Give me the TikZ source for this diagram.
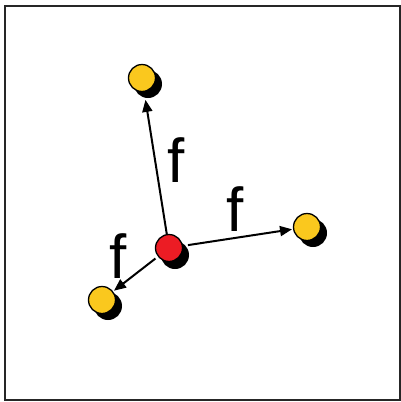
\documentclass[tikz,border=0pt]{standalone}
\usepackage{fontspec}
\setmainfont{Liberation Sans}
\usetikzlibrary{arrows.meta}
\definecolor{ballyellow}{RGB}{250,200,30}
\definecolor{ballred}{RGB}{236,28,36}
\tikzset{
  ball/.style={circle,draw=black,line width=1.3pt,minimum size=27pt,inner sep=0pt},
  shadowball/.style={circle,fill=black,minimum size=28pt,inner sep=0pt},
  force/.style={line width=2pt,-{Triangle[length=12pt,width=10pt]}},
  flabel/.style={font=\fontsize{62}{62}\selectfont,inner sep=0pt}
}
\begin{document}
\begin{tikzpicture}[x=1pt,y=-1pt]
\useasboundingbox (0,0) rectangle (401,402);
\draw[line width=1.5pt,draw=black!85] (5,6) rectangle (400,400);
% shadows
\node[shadowball] at (148,84) {};
\node[shadowball] at (175,255) {};
\node[shadowball] at (313,233) {};
\node[shadowball] at (108,306) {};
% balls
\node[ball,fill=ballyellow] (top) at (142,78) {};
\node[ball,fill=ballred] (c) at (169,248) {};
\node[ball,fill=ballyellow] (right) at (307,227) {};
\node[ball,fill=ballyellow] (left) at (102,300) {};
% arrows
\draw[force,shorten >=8pt] (c) -- (top);
\draw[force,shorten <=5pt,shorten >=1pt] (c) -- (right);
\draw[force,shorten <=3pt,shorten >=1pt] (c) -- (left);
% labels
\node[flabel] (f1) at (176,160) {f};
\node[flabel] (f2) at (235,209) {f};
\node[flabel] (f3) at (118,256) {f};
\end{tikzpicture}
\end{document}
